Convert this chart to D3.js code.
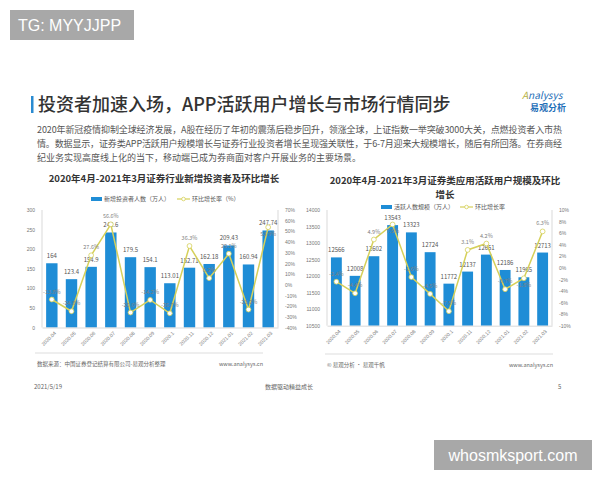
<!DOCTYPE html>
<html>
<head>
<meta charset="utf-8">
<script src="https://cdn.jsdelivr.net/npm/d3@7"></script>
<style>
  body { margin: 0; background: #fff; }
  svg { display: block; font-family: "Noto Sans CJK SC", "Noto Sans", sans-serif; }
</style>
</head>
<body>
<div id="chart"></div>
<script>
var months = ["2020.04","2020.05","2020.06","2020.07","2020.08","2020.09","2020.1","2020.11","2020.12","2021.01","2021.02","2021.03"];

// left chart: new investors (10k) and month-on-month growth (%)
var newInvestors = [164, 123.4, 154.9, 242.6, 179.5, 154.1, 113.01, 152.71, 162.18, 209.43, 160.94, 247.74];
var investorGrowth = [-13.8, -24.8, 27.6, 56.6, -26.0, -14.2, -26.7, 36.3, 6.2, 29.1, -23.2, 53.9];
var investorTicks = [0, 50, 100, 150, 200, 250, 300];
var investorPctTicks = [-40, -30, -20, -10, 0, 10, 20, 30, 40, 50, 60, 70];

// right chart: active users of securities apps (10k) and growth (%)
var activeUsers = [12566, 12008, 12602, 13543, 13323, 12724, 11772, 12137, 12651, 12186, 11965, 12713];
var userGrowth = [-2.4, -4.4, 4.9, 7.5, -1.6, -4.5, -7.5, 3.1, 4.2, -3.7, -1.8, 6.3];
var userTicks = [10500, 11000, 11500, 12000, 12500, 13000, 13500, 14000];
var userPctTicks = [-10, -8, -6, -4, -2, 0, 2, 4, 6, 8, 10];

var paragraph = [
  "2020年新冠疫情抑制全球经济发展，A股在经历了年初的震荡后稳步回升，领涨全球，上证指数一举突破3000大关，点燃投资者入市热",
  "情。数据显示，证券类APP活跃用户规模增长与证券行业投资者增长呈现强关联性，于6-7月迎来大规模增长，随后有所回落。在券商经",
  "纪业务实现高度线上化的当下，移动端已成为券商面对客户开展业务的主要场景。"
];

var W = 600, H = 480;
var barColor = "#1f8dd6", lineColor = "#d6d05a";

var svg = d3.select("#chart").append("svg")
    .attr("width", W)
    .attr("height", H);

svg.append("rect").attr("width", W).attr("height", H).attr("fill", "#fff");

// watermark top-left
svg.append("rect").attr("x", 10).attr("y", 10).attr("width", 124).attr("height", 30).attr("fill", "#a8a8a8");
svg.append("text").attr("x", 18).attr("y", 31)
    .style("font-family", "Liberation Sans, Arial, sans-serif").style("font-size", "16px")
    .attr("fill", "#fff").text("TG: MYYJJPP");

// heading
svg.append("rect").attr("x", 31).attr("y", 96).attr("width", 2.5).attr("height", 17).attr("fill", "#2a8bd1");
svg.append("text").attr("x", 38).attr("y", 111)
    .style("font-size", "18px").style("font-weight", 500)
    .attr("fill", "#333").text("投资者加速入场，APP活跃用户增长与市场行情同步");

// logo
var logo = svg.append("text").attr("x", 522).attr("y", 99)
    .style("font-size", "10px").style("font-style", "italic");
logo.append("tspan").attr("fill", "#b5b043").text("A");
logo.append("tspan").attr("fill", "#1f6fb8").text("nalysys");
svg.append("text").attr("x", 530).attr("y", 111)
    .style("font-size", "9px").style("font-weight", 700)
    .attr("fill", "#1f6fb8").text("易观分析");

// body text
svg.selectAll(".para").data(paragraph).enter().append("text")
    .attr("class", "para")
    .attr("x", 37)
    .attr("y", function(d, i) { return 132.5 + i * 14; })
    .attr("textLength", function(d, i) { return i < 2 ? 525 : null; })
    .attr("lengthAdjust", "spacing")
    .style("font-size", "9px")
    .attr("fill", "#555")
    .text(function(d) { return d; });

function drawChart(opt) {
    var g = svg.append("g");

    var x = d3.scaleBand().domain(months).range([opt.left, opt.right]).paddingInner(0.42).paddingOuter(0.21);
    var y = d3.scaleLinear().domain(opt.domain).range([opt.bottom, opt.top]);
    var y2 = d3.scaleLinear().domain(opt.pctDomain).range([opt.bottom, opt.top]);

    // frame
    g.append("line").attr("x1", opt.left).attr("x2", opt.left).attr("y1", opt.top).attr("y2", opt.bottom).attr("stroke", "#d9d9d9");
    g.append("line").attr("x1", opt.right).attr("x2", opt.right).attr("y1", opt.top).attr("y2", opt.bottom).attr("stroke", "#d9d9d9");

    var ax = g.append("g").attr("transform", "translate(" + (opt.left - 4) + ",0)")
        .call(d3.axisLeft(y).tickValues(opt.ticks).tickSize(0).tickFormat(d3.format("d")));
    ax.select(".domain").remove();
    ax.selectAll("text").style("font-size", "5px").attr("fill", "#777");

    var ax2 = g.append("g").attr("transform", "translate(" + (opt.right + 4) + ",0)")
        .call(d3.axisRight(y2).tickValues(opt.pctTicks).tickSize(0).tickFormat(function(d) { return d + "%"; }));
    ax2.select(".domain").remove();
    ax2.selectAll("text").style("font-size", "5px").attr("fill", "#777");

    g.selectAll(".bar").data(opt.bars).enter().append("rect")
        .attr("x", function(d, i) { return x(months[i]); })
        .attr("y", function(d) { return y(d); })
        .attr("width", x.bandwidth())
        .attr("height", function(d) { return opt.bottom - y(d); })
        .attr("fill", barColor);

    var axb = g.append("g").attr("transform", "translate(0," + opt.bottom + ")")
        .call(d3.axisBottom(x).tickSize(0));
    axb.select(".domain").attr("stroke", "#d9d9d9");
    axb.selectAll("text")
        .style("font-size", "5px").attr("fill", "#777")
        .attr("text-anchor", "end")
        .attr("dx", "-0.2em").attr("dy", "0.9em")
        .attr("transform", "rotate(-45)");

    g.selectAll(".blab").data(opt.bars).enter().append("text")
        .attr("x", function(d, i) { return x(months[i]) + x.bandwidth() / 2; })
        .attr("y", function(d) { return y(d) - 5; })
        .attr("text-anchor", "middle")
        .style("font-size", "6px").attr("fill", "#555")
        .text(function(d) { return d; });

    var cx = function(d, i) { return x(months[i]) + x.bandwidth() / 2; };
    var line = d3.line().x(cx).y(function(d) { return y2(d); });

    g.append("path").datum(opt.pct)
        .attr("d", line).attr("fill", "none")
        .attr("stroke", lineColor).attr("stroke-width", 1.5);

    g.selectAll(".dot").data(opt.pct).enter().append("circle")
        .attr("cx", cx).attr("cy", function(d) { return y2(d); })
        .attr("r", 2.4).attr("fill", "#fff")
        .attr("stroke", lineColor).attr("stroke-width", 0.8);

    g.selectAll(".plab").data(opt.pct).enter().append("text")
        .attr("x", cx)
        .attr("y", function(d, i) {
            var py = y2(d), by = y(opt.bars[i]);
            return Math.abs(py - by) < 4 ? py + 9 : py - 6;
        })
        .attr("text-anchor", "middle")
        .style("font-size", "5.5px").attr("fill", "#808080")
        .text(function(d) { return d.toFixed(1) + "%"; });

    // titles
    opt.title.forEach(function(t, i) {
        g.append("text").attr("x", opt.titleX).attr("y", opt.titleY + i * 14)
            .attr("text-anchor", "middle")
            .style("font-size", "9.5px").style("font-weight", 700)
            .attr("fill", "#333").text(t);
    });

    // legend
    g.append("rect").attr("x", opt.legX).attr("y", opt.legY - 2).attr("width", 11).attr("height", 4).attr("fill", barColor);
    g.append("text").attr("x", opt.legX + 13).attr("y", opt.legY + 2)
        .style("font-size", "6px").attr("fill", "#555").text(opt.barName);
    g.append("line").attr("x1", opt.legX2).attr("x2", opt.legX2 + 13)
        .attr("y1", opt.legY).attr("y2", opt.legY)
        .attr("stroke", lineColor).attr("stroke-width", 1.2);
    g.append("circle").attr("cx", opt.legX2 + 6.5).attr("cy", opt.legY).attr("r", 1.8)
        .attr("fill", "#fff").attr("stroke", lineColor).attr("stroke-width", 0.8);
    g.append("text").attr("x", opt.legX2 + 15).attr("y", opt.legY + 2)
        .style("font-size", "6px").attr("fill", "#555").text(opt.lineName);

    // footer of chart
    g.append("line").attr("x1", opt.sepX1).attr("x2", opt.sepX2)
        .attr("y1", opt.sepY).attr("y2", opt.sepY).attr("stroke", "#ddd");
    g.append("text").attr("x", opt.sepX1 + 2).attr("y", opt.sepY + 13)
        .style("font-size", "5.5px").attr("fill", "#666").text(opt.source);
    g.append("text").attr("x", opt.sepX2).attr("y", opt.sepY + 13)
        .attr("text-anchor", "end")
        .style("font-size", "5.5px").attr("fill", "#666").text("www.analysys.cn");
}

drawChart({
    left: 42, right: 278, top: 210, bottom: 327.5,
    domain: [0, 300], pctDomain: [-40, 70],
    ticks: investorTicks, pctTicks: investorPctTicks,
    bars: newInvestors, pct: investorGrowth,
    title: ["2020年4月-2021年3月证券行业新增投资者及环比增长"], titleX: 164, titleY: 181.5,
    legX: 91, legX2: 177, legY: 199,
    barName: "新增投资者人数（万人）", lineName: "环比增长率（%）",
    sepX1: 35, sepX2: 263, sepY: 353,
    source: "数据来源：中国证券登记结算有限公司-易观分析整理"
});

drawChart({
    left: 327, right: 552, top: 210, bottom: 325.7,
    domain: [10500, 14000], pctDomain: [-10, 10],
    ticks: userTicks, pctTicks: userPctTicks,
    bars: activeUsers, pct: userGrowth,
    title: ["2020年4月-2021年3月证券类应用活跃用户规模及环比", "增长"], titleX: 445, titleY: 184,
    legX: 381, legX2: 460, legY: 207,
    barName: "活跃人数规模（万人）", lineName: "环比增长率",
    sepX1: 325, sepX2: 553, sepY: 354,
    source: "© 易观分析 · 易观千帆"
});

// page footer
svg.append("text").attr("x", 34).attr("y", 389).style("font-size", "6px").attr("fill", "#666").text("2021/5/19");
svg.append("text").attr("x", 289).attr("y", 389).attr("text-anchor", "middle").style("font-size", "6px").attr("fill", "#666").text("数据驱动精益成长");
svg.append("text").attr("x", 558).attr("y", 389).style("font-size", "6px").attr("fill", "#666").text("5");

// watermark bottom-right
svg.append("rect").attr("x", 434).attr("y", 440).attr("width", 158).attr("height", 30).attr("fill", "#a8a8a8");
svg.append("text").attr("x", 513).attr("y", 461).attr("text-anchor", "middle")
    .style("font-family", "Liberation Sans, Arial, sans-serif").style("font-size", "16px")
    .attr("fill", "#fff").text("whosmksport.com");
</script>
</body>
</html>
